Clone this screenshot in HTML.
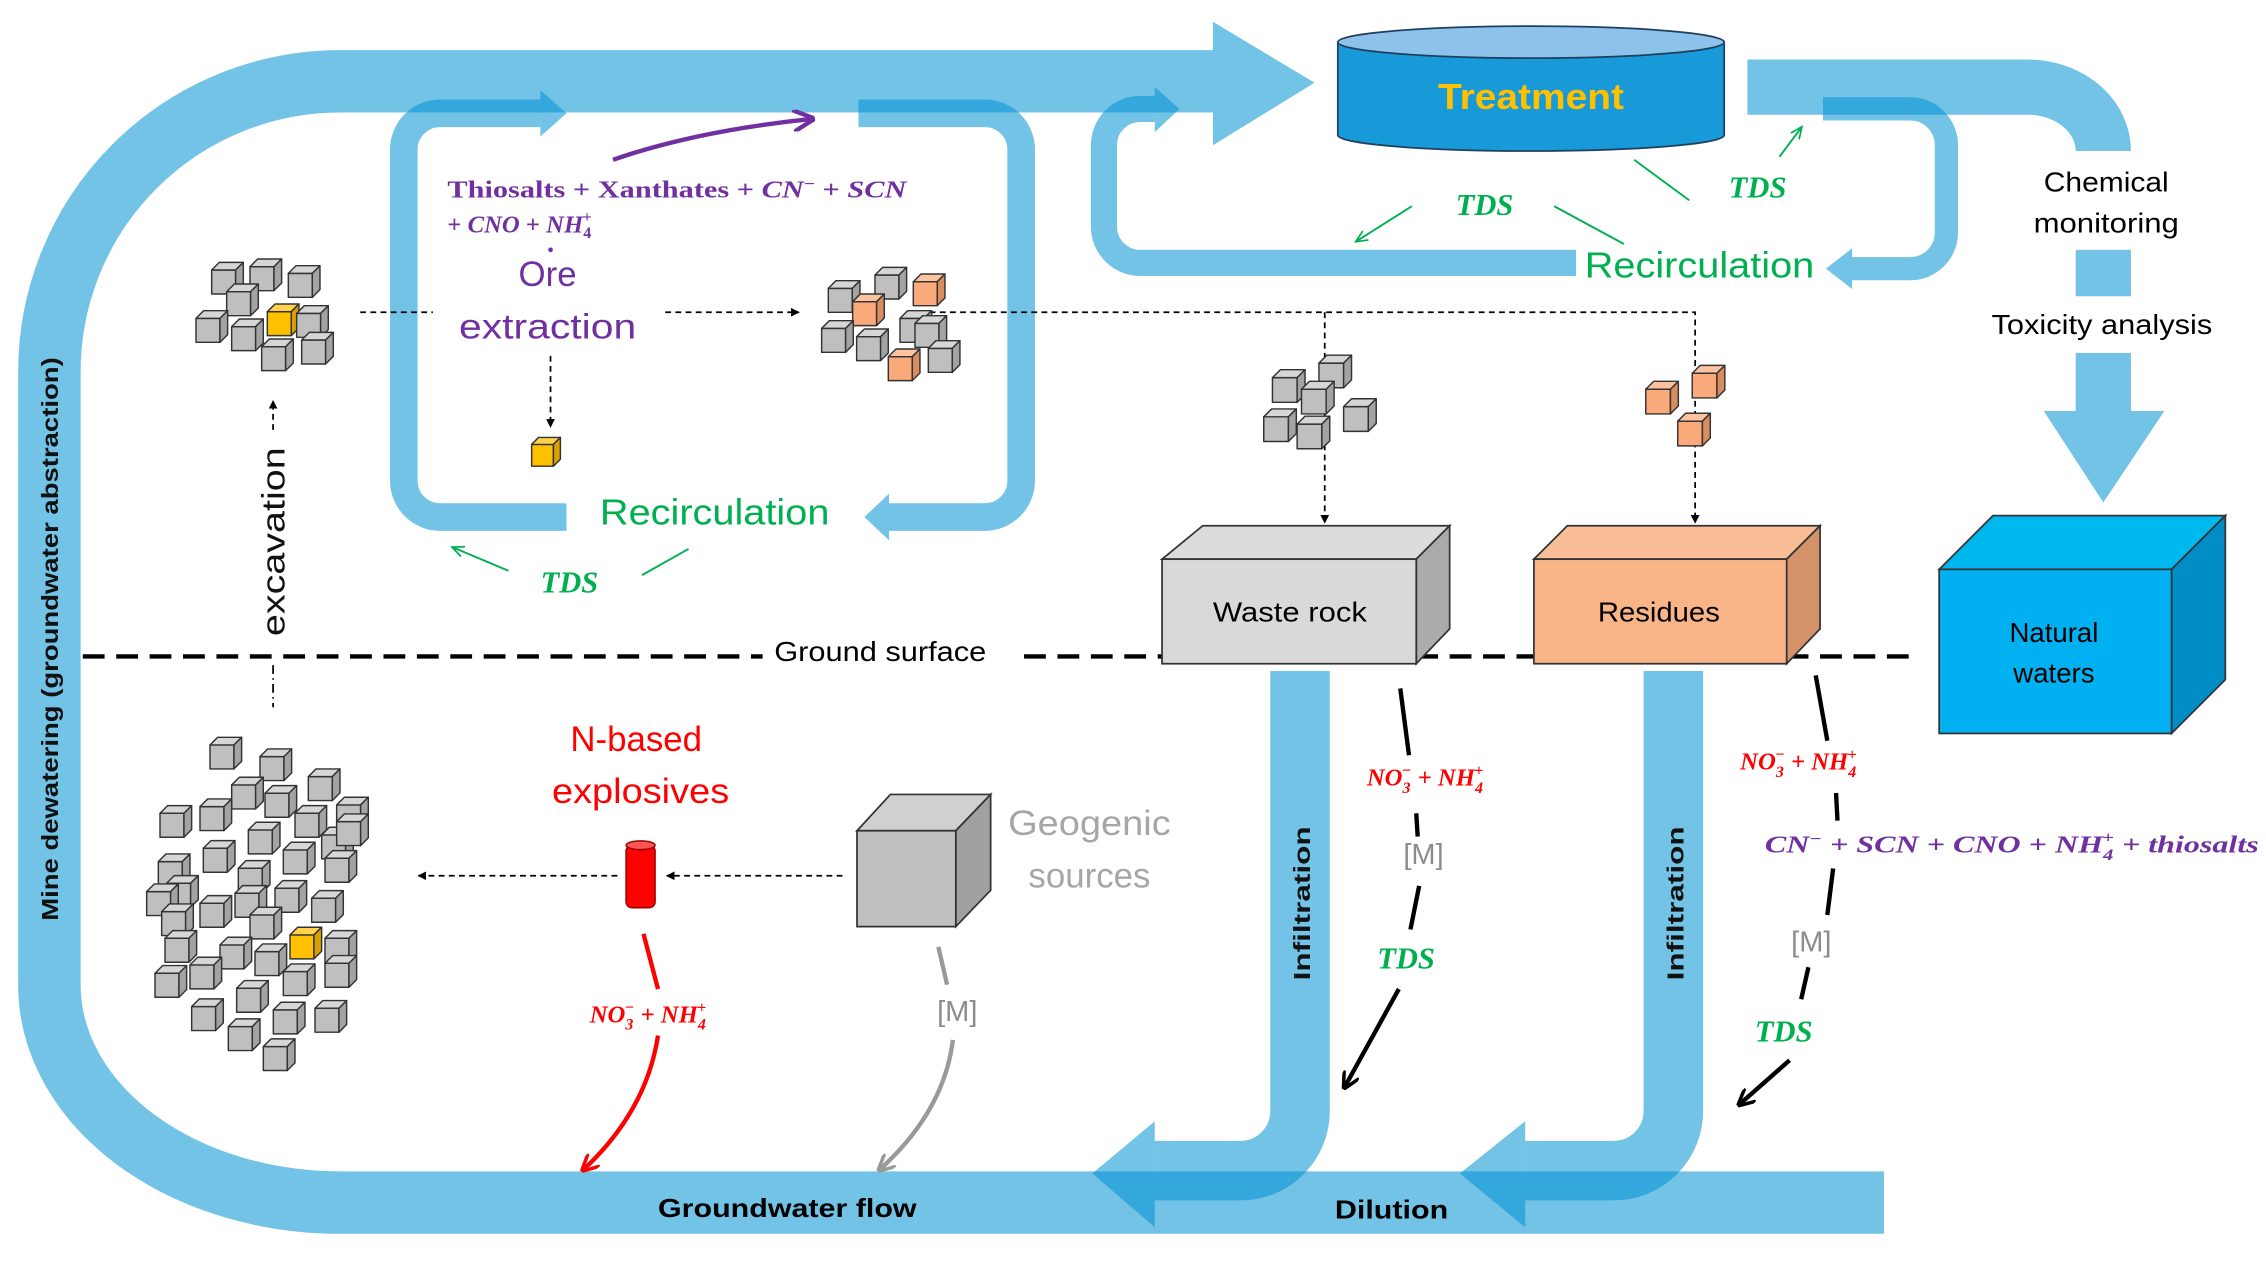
<!DOCTYPE html>
<html><head><meta charset="utf-8"><style>
html,body{margin:0;padding:0;background:#fff}
svg{display:block}
text{font-family:"Liberation Sans",sans-serif}
.m{font-family:"Liberation Serif",serif;font-style:italic;font-weight:bold}
.sf{font-family:"Liberation Serif",serif;font-weight:bold}
</style></head><body>
<svg id="s" width="2266" height="1265" viewBox="0 0 1560 871" preserveAspectRatio="none" xmlns="http://www.w3.org/2000/svg">
<defs>
<marker id="ak" viewBox="0 0 10 10" refX="9" refY="5" markerWidth="5" markerHeight="5" orient="auto"><path d="M0,0L10,5L0,10z" fill="#000"/></marker>
<marker id="ar" viewBox="0 0 10 10" refX="8" refY="5" markerWidth="4" markerHeight="4" orient="auto"><path d="M0,0L10,5L0,10" fill="none" stroke="#f00" stroke-width="2"/></marker>
<marker id="ag" viewBox="0 0 10 10" refX="8" refY="5" markerWidth="4" markerHeight="4" orient="auto"><path d="M0,0L10,5L0,10" fill="none" stroke="#999" stroke-width="2"/></marker>
<marker id="ab" viewBox="0 0 10 10" refX="8" refY="5" markerWidth="4" markerHeight="4" orient="auto"><path d="M0,0L10,5L0,10" fill="none" stroke="#000" stroke-width="2"/></marker>
<marker id="agr" viewBox="0 0 10 10" refX="8" refY="5" markerWidth="7" markerHeight="7" orient="auto"><path d="M0,1L9,5L0,9" fill="none" stroke="#00B050" stroke-width="1.3"/></marker>
<marker id="ap" viewBox="0 0 10 10" refX="8" refY="5" markerWidth="5" markerHeight="5" orient="auto"><path d="M0,0L10,5L0,10" fill="none" stroke="#7030A0" stroke-width="2"/></marker>
</defs>
<g fill="none" stroke="rgb(0,145,212)" stroke-opacity="0.55">
<path d="M1297 828 H234 A200 150 0 0 1 34 678 V256 A200 200 0 0 1 234 56 H835" stroke-width="43"/>
<path d="M390 356 H303 A25 25 0 0 1 278 331 V103 A25 25 0 0 1 303 78 H372" stroke-width="19"/>
<path d="M591 78 H678 A25 25 0 0 1 703 103 V331 A25 25 0 0 1 678 356 H612" stroke-width="19"/>
<path d="M1085 181 H785 A25 25 0 0 1 760 156 V100 A25 25 0 0 1 785 75 H795" stroke-width="18"/>
<path d="M1255 75 H1315 A25 25 0 0 1 1340 100 V160 A25 25 0 0 1 1315 185 H1275" stroke-width="16"/>
<path d="M1203 60 H1395 A52 44 0 0 1 1448 104" stroke-width="38"/>
<path d="M895 462 V765 A41 41 0 0 1 854 806 H795" stroke-width="41"/>
<path d="M1152 462 V765 A41 41 0 0 1 1111 806 H1050" stroke-width="41"/>
</g>
<g fill="rgb(0,145,212)" fill-opacity="0.55">
<polygon points="835,15 905,57 835,100"/>
<polygon points="372,62 390,78 372,94"/>
<polygon points="612,340 595,356 612,372"/>
<polygon points="795,60 812,75 795,91"/>
<polygon points="1275,171 1257,185 1275,199"/>
<rect x="1429" y="172" width="38" height="32"/>
<rect x="1429" y="243" width="38" height="40"/>
<polygon points="1407,283 1490,283 1448,346"/>
<polygon points="795,772 752,808 795,845"/>
<polygon points="1050,772 1005,808 1050,845"/>
</g>
<path d="M921 29 V93 A133 11 0 0 0 1187 93 V29 Z" fill="#1899D8" stroke="#1f3f5f" stroke-width="1.2"/>
<ellipse cx="1054" cy="29" rx="133" ry="11" fill="#8DC3EA" stroke="#1f3f5f" stroke-width="1.2"/>
<text x="1054" y="75" text-anchor="middle" font-size="25" font-weight="bold" fill="#FFC000" textLength="128" lengthAdjust="spacingAndGlyphs">Treatment</text>

<g stroke="#00B050" stroke-width="1.3" fill="none">
<line x1="1125" y1="110" x2="1163" y2="138"/>
<line x1="1070" y1="142" x2="1118" y2="168"/>
<line x1="972" y1="142" x2="934" y2="166" marker-end="url(#agr)"/>
<line x1="1225" y1="108" x2="1240" y2="88" marker-end="url(#agr)"/>
<line x1="350" y1="393" x2="312" y2="377" marker-end="url(#agr)"/>
<line x1="442" y1="396" x2="474" y2="378"/>
</g>
<g fill="#00B050" font-size="21">
<text x="1022" y="148" text-anchor="middle" class="m">TDS</text>
<text x="1210" y="136" text-anchor="middle" class="m">TDS</text>
<text x="392" y="408" text-anchor="middle" class="m">TDS</text>
<text x="968" y="667" text-anchor="middle" class="m">TDS</text>
<text x="1228" y="717" text-anchor="middle" class="m">TDS</text>
</g>
<text x="1170" y="191" text-anchor="middle" font-size="25" fill="#00B050" textLength="158" lengthAdjust="spacingAndGlyphs">Recirculation</text>
<text x="492" y="361" text-anchor="middle" font-size="25" fill="#00B050" textLength="158" lengthAdjust="spacingAndGlyphs">Recirculation</text>

<path d="M422 110 Q480 90 558 82" fill="none" stroke="#7030A0" stroke-width="3" marker-end="url(#ap)"/>
<text x="308" y="136" font-size="17" fill="#7030A0" class="sf" textLength="316" lengthAdjust="spacingAndGlyphs">Thiosalts + Xanthates + <tspan font-style="italic">CN</tspan><tspan font-size="11" dy="-6">−</tspan><tspan dy="6"> + </tspan><tspan font-style="italic">SCN</tspan></text>
<text x="308" y="160" font-size="17" fill="#7030A0" class="sf">+ <tspan font-style="italic">CNO</tspan> + <tspan font-style="italic">NH</tspan><tspan font-size="11" dy="4">4</tspan><tspan font-size="11" dx="-6" dy="-11">+</tspan></text>
<circle cx="379" cy="172" r="1.6" fill="#7030A0"/>
<text x="377" y="197" text-anchor="middle" font-size="24" fill="#7030A0">Ore</text>
<text x="377" y="233" text-anchor="middle" font-size="24" fill="#7030A0" textLength="122" lengthAdjust="spacingAndGlyphs">extraction</text>

<g stroke="#000" stroke-width="1.2" stroke-dasharray="4 3" fill="none">
<line x1="248" y1="215" x2="298" y2="215"/>
<line x1="458" y1="215" x2="550" y2="215" marker-end="url(#ak)"/>
<line x1="379" y1="245" x2="379" y2="294" marker-end="url(#ak)"/>
<polyline points="640,215 1167,215 1167,360" marker-end="url(#ak)"/>
<line x1="912" y1="215" x2="912" y2="360" marker-end="url(#ak)"/>
<line x1="188" y1="296" x2="188" y2="276" marker-end="url(#ak)"/>
<line x1="188" y1="458" x2="188" y2="487" stroke-dasharray="6 3 1 3"/>
<line x1="580" y1="603" x2="459" y2="603" marker-end="url(#ak)"/>
<line x1="425" y1="603" x2="288" y2="603" marker-end="url(#ak)"/>
</g>

<g stroke="#000" stroke-width="3" stroke-dasharray="15 8">
<line x1="57" y1="452" x2="525" y2="452"/>
<line x1="705" y1="452" x2="800" y2="452"/>
<line x1="975" y1="452" x2="1056" y2="452"/>
<line x1="1230" y1="452" x2="1318" y2="452"/>
</g>
<text x="606" y="455" text-anchor="middle" font-size="19" fill="#000" textLength="146" lengthAdjust="spacingAndGlyphs">Ground surface</text>

<polygon points="800,385 828,362 998,362 975,385" fill="#DCDCDC" stroke="#333" stroke-width="1.2"/>
<polygon points="975,385 998,362 998,433 975,457" fill="#ABABAB" stroke="#333" stroke-width="1.2"/>
<rect x="800" y="385" width="175" height="72" fill="#D9D9D9" stroke="#333" stroke-width="1.2"/>
<text x="888" y="428" text-anchor="middle" font-size="19" textLength="106" lengthAdjust="spacingAndGlyphs">Waste rock</text>
<polygon points="1056,385 1079,362 1253,362 1230,385" fill="#FABE96" stroke="#333" stroke-width="1.2"/>
<polygon points="1230,385 1253,362 1253,433 1230,457" fill="#D49268" stroke="#333" stroke-width="1.2"/>
<rect x="1056" y="385" width="174" height="72" fill="#F9B487" stroke="#333" stroke-width="1.2"/>
<text x="1142" y="428" text-anchor="middle" font-size="19" textLength="84" lengthAdjust="spacingAndGlyphs">Residues</text>
<polygon points="1335,392 1372,355 1532,355 1495,392" fill="#00B8F0" stroke="#333" stroke-width="1.2"/>
<polygon points="1495,392 1532,355 1532,468 1495,505" fill="#008CC4" stroke="#333" stroke-width="1.2"/>
<rect x="1335" y="392" width="160" height="113" fill="#00B0F0" stroke="#333" stroke-width="1.2"/>
<text x="1414" y="442" text-anchor="middle" font-size="19">Natural</text>
<text x="1414" y="470" text-anchor="middle" font-size="19">waters</text>

<text x="1450" y="132" text-anchor="middle" font-size="19" textLength="86" lengthAdjust="spacingAndGlyphs">Chemical</text>
<text x="1450" y="160" text-anchor="middle" font-size="19" textLength="100" lengthAdjust="spacingAndGlyphs">monitoring</text>
<text x="1447" y="230" text-anchor="middle" font-size="19" textLength="152" lengthAdjust="spacingAndGlyphs">Toxicity analysis</text>

<text transform="translate(40,440) rotate(-90)" text-anchor="middle" font-size="16" font-weight="bold" fill="#111" textLength="388" lengthAdjust="spacingAndGlyphs">Mine dewatering (groundwater abstraction)</text>
<text transform="translate(196,373) rotate(-90)" text-anchor="middle" font-size="22" fill="#111" textLength="130" lengthAdjust="spacingAndGlyphs">excavation</text>
<text transform="translate(902,622) rotate(-90)" text-anchor="middle" font-size="16" font-weight="bold" fill="#111" textLength="106" lengthAdjust="spacingAndGlyphs">Infiltration</text>
<text transform="translate(1159,622) rotate(-90)" text-anchor="middle" font-size="16" font-weight="bold" fill="#111" textLength="106" lengthAdjust="spacingAndGlyphs">Infiltration</text>
<text x="542" y="838" text-anchor="middle" font-size="18" font-weight="bold" textLength="178" lengthAdjust="spacingAndGlyphs">Groundwater flow</text>
<text x="958" y="839" text-anchor="middle" font-size="18" font-weight="bold" textLength="78" lengthAdjust="spacingAndGlyphs">Dilution</text>

<text x="438" y="517" text-anchor="middle" font-size="24" fill="#f00">N-based</text>
<text x="441" y="553" text-anchor="middle" font-size="24" fill="#f00" textLength="122" lengthAdjust="spacingAndGlyphs">explosives</text>
<rect x="431" y="582" width="20" height="43" rx="4" fill="#f00" stroke="#900" stroke-width="1"/>
<ellipse cx="441" cy="582" rx="10" ry="3" fill="#f55" stroke="#900" stroke-width="1"/>
<polygon points="590,572 613,547 682,547 658,572" fill="#D0D0D0" stroke="#333" stroke-width="1.2"/>
<polygon points="658,572 682,547 682,613 658,638" fill="#A0A0A0" stroke="#333" stroke-width="1.2"/>
<rect x="590" y="572" width="68" height="66" fill="#C0C0C0" stroke="#333" stroke-width="1.2"/>
<text x="750" y="575" text-anchor="middle" font-size="24" fill="#A6A6A6" textLength="112" lengthAdjust="spacingAndGlyphs">Geogenic</text>
<text x="750" y="611" text-anchor="middle" font-size="24" fill="#A6A6A6">sources</text>

<g stroke-width="3" fill="none">
<line x1="443" y1="643" x2="453" y2="681" stroke="#f00"/>
<path d="M453 713 Q445 765 402 805" stroke="#f00" marker-end="url(#ar)"/>
<line x1="646" y1="652" x2="652" y2="678" stroke="#999"/>
<path d="M656 716 Q650 765 606 805" stroke="#999" marker-end="url(#ag)"/>
<g stroke="#000">
<line x1="964" y1="474" x2="970" y2="520"/>
<line x1="975" y1="560" x2="976" y2="576"/>
<line x1="977" y1="610" x2="971" y2="640"/>
<path d="M963 681 L926 748" marker-end="url(#ab)"/>
<line x1="1250" y1="465" x2="1258" y2="510"/>
<line x1="1264" y1="546" x2="1265" y2="565"/>
<line x1="1262" y1="598" x2="1258" y2="630"/>
<line x1="1245" y1="666" x2="1240" y2="688"/>
<path d="M1232 730 L1198 760" marker-end="url(#ab)"/>
</g>
</g>
<g font-size="17" fill="#f00">
<text x="406" y="704" class="m">NO<tspan font-size="11" dy="5">3</tspan><tspan font-size="11" dx="-6" dy="-12">−</tspan><tspan dy="7"> + NH</tspan><tspan font-size="11" dy="5">4</tspan><tspan font-size="11" dx="-6" dy="-12">+</tspan></text>
<text x="941" y="541" class="m">NO<tspan font-size="11" dy="5">3</tspan><tspan font-size="11" dx="-6" dy="-12">−</tspan><tspan dy="7"> + NH</tspan><tspan font-size="11" dy="5">4</tspan><tspan font-size="11" dx="-6" dy="-12">+</tspan></text>
<text x="1198" y="530" class="m">NO<tspan font-size="11" dy="5">3</tspan><tspan font-size="11" dx="-6" dy="-12">−</tspan><tspan dy="7"> + NH</tspan><tspan font-size="11" dy="5">4</tspan><tspan font-size="11" dx="-6" dy="-12">+</tspan></text>
</g>
<text x="1215" y="587" class="m" font-size="17" fill="#7030A0" textLength="340" lengthAdjust="spacingAndGlyphs">CN<tspan font-size="11" dy="-6">−</tspan><tspan dy="6"> + SCN + CNO + NH</tspan><tspan font-size="11" dy="5">4</tspan><tspan font-size="11" dx="-6" dy="-12">+</tspan><tspan dy="7"> + thiosalts</tspan></text>
<g font-size="20" fill="#8c8c8c" text-anchor="middle">
<text x="659" y="703">[M]</text>
<text x="980" y="595">[M]</text>
<text x="1247" y="655">[M]</text>
</g>
<g id="cubes"></g>
</svg>
<script>
(function(){
var g=document.getElementById('cubes'),NS='http://www.w3.org/2000/svg';
var C={g:['#BFBFBF','#D6D6D6','#A3A3A3'],y:['#FFC000','#FFD24D','#D9A000'],o:['#F9A97A','#FBC3A0','#D98C5E']};
function poly(p,f){var e=document.createElementNS(NS,'polygon');e.setAttribute('points',p);e.setAttribute('fill',f);e.setAttribute('stroke','#333');e.setAttribute('stroke-width','1');e.setAttribute('stroke-linejoin','round');g.appendChild(e);}
function cube(x,y,s,c){var d=s*0.32,k=C[c];
poly([x,y,x+s,y,x+s,y+s,x,y+s].join(','),k[0]);
poly([x,y,x+d,y-d,x+s+d,y-d,x+s,y].join(','),k[1]);
poly([x+s,y,x+s+d,y-d,x+s+d,y+s-d,x+s,y+s].join(','),k[2]);}
function cl(ox,oy,list){for(var i=0;i<list.length;i++){var a=list[i];cube((ox+a[0]/3)/1.4526,(oy+a[1]/3)/1.4526+3.5,16.5,a[2]||'g');}}
cl(180,240,[[95,75],[210,65],[325,85],[140,140],[48,220],[155,245],[262,200,'y'],[350,205],[365,285],[245,305]]);
cl(810,250,[[195,60],[310,80,'o'],[55,100],[128,140,'o'],[270,190],[35,220],[140,245],[315,205],[355,280],[235,305,'o']]);
cl(140,720,[[210,60],[360,95],[505,155],[275,180],[375,205],[590,240],[60,265],[180,245],[465,265],[545,330],[590,290],[325,315],[190,370],[430,375],[555,400],[55,410],[295,430],[80,475],[20,500],[180,535],[285,505],[405,490],[515,520],[65,560],[330,570],[75,640],[240,660],[555,640],[450,630,'y'],[345,680],[150,720],[45,745],[430,740],[555,715],[290,790],[155,845],[400,855],[525,850],[265,905],[370,965]]);
var w=[[908,250],[876,260],[925,280],[896,268],[870,287],[893,292]];
for(var i=0;i<w.length;i++)cube(w[i][0],w[i][1],17,'g');
cube(1165,257,17,'o');cube(1133,268,17,'o');cube(1155,290,17,'o');
cube(366,306,15,'y');
})();
</script>
</body></html>
